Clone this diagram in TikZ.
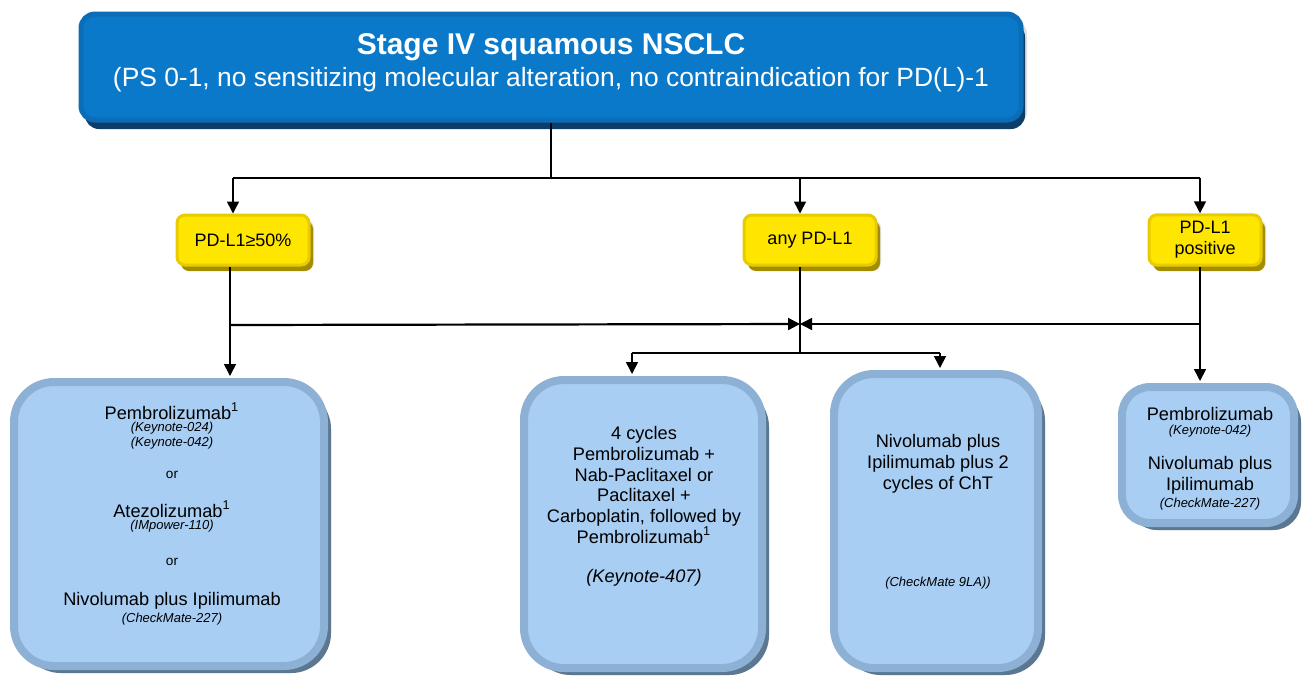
\documentclass[tikz,border=0pt]{standalone}
\usepackage{fontspec}
\setmainfont{Liberation Sans}
\usetikzlibrary{arrows.meta,shadows}

\definecolor{topface}{HTML}{0A79C9}
\definecolor{topedge}{HTML}{0B6DB8}
\definecolor{topdark}{HTML}{0C3E6A}
\definecolor{ylwface}{HTML}{FFE600}
\definecolor{ylwedge}{HTML}{E8CB00}
\definecolor{ylwdark}{HTML}{A48C00}
\definecolor{armface}{HTML}{A8CEF3}
\definecolor{armedge}{HTML}{8CB1D4}
\definecolor{armdark}{HTML}{5B7791}

\begin{document}
\begin{tikzpicture}[
  x=0.5pt, y=-0.5pt,
  topbox/.style={rectangle, rounded corners=7pt, fill=topface, draw=topedge, line width=2.5pt,
    drop shadow={opacity=0.25, shadow xshift=3pt, shadow yshift=-3pt},
    general shadow={fill=topdark, shadow xshift=2pt, shadow yshift=-4.5pt}},
  ylwbox/.style={rectangle, rounded corners=4pt, fill=ylwface, draw=ylwedge, line width=1.5pt,
    minimum height=25pt, align=center, font=\fontsize{9}{10.5}\selectfont,
    drop shadow={opacity=0.25, shadow xshift=2.5pt, shadow yshift=-2.5pt},
    general shadow={fill=ylwdark, shadow xshift=2pt, shadow yshift=-3pt}},
  armbox/.style={rectangle, rounded corners=20pt, fill=armface, draw=armedge, line width=4pt,
    drop shadow={opacity=0.25, shadow xshift=3.5pt, shadow yshift=-3.5pt},
    general shadow={fill=armdark, shadow xshift=3.5pt, shadow yshift=-3.5pt}},
  drug/.style={inner sep=0pt, align=center, font=\fontsize{9.1}{10.4}\selectfont},
  trial/.style={inner sep=0pt, align=center, font=\fontsize{6.5}{7.6}\selectfont\itshape},
  alt/.style={inner sep=0pt, font=\fontsize{6.8}{8}\selectfont},
  conn/.style={line width=0.8pt, draw=black},
  arr/.style={conn, -{Triangle[length=6pt, width=6pt]}}
]
\useasboundingbox (0,0) rectangle (1304,676);

% --- header ---
\node[topbox, minimum width=470pt, minimum height=53pt] (top) at (551,67) {};
\node[inner sep=0pt, text=white, font=\fontsize{15}{18}\selectfont\bfseries] (ttl) at (551,47) {Stage IV squamous NSCLC};
\node[inner sep=0pt, text=white, font=\fontsize{13.2}{16}\selectfont] (sub) at (551,80) {(PS 0-1, no sensitizing molecular alteration, no contraindication for PD(L)-1};

% --- PD-L1 groups ---
\node[ylwbox, minimum width=66pt] (yb1) at (243,240) {PD-L1≥50\%};
\node[ylwbox, minimum width=66pt] (yb2) at (810,240) {any PD-L1};
\node[ylwbox, minimum width=56pt] (yb3) at (1205,240) {PD-L1\\positive};

% --- treatment boxes ---
\node[armbox, minimum width=155pt, minimum height=142pt] (bA) at (169,524) {};
\node[armbox, minimum width=119pt, minimum height=144pt] (bB) at (643,524) {};
\node[armbox, minimum width=102pt, minimum height=147pt] (bC) at (936,521) {};
\node[armbox, rounded corners=14pt, minimum width=86pt, minimum height=68pt] (bD) at (1208,455) {};

% box A
\node[drug]  (aP)  at (172,411) {Pembrolizumab\textsuperscript{1}};
\node[trial] (aK)  at (172,436) {(Keynote-024)\\(Keynote-042)};
\node[alt]   (aO1) at (172,475) {or};
\node[drug]  (aA)  at (172,509) {Atezolizumab\textsuperscript{1}};
\node[trial] (aI)  at (172,526) {(IMpower-110)};
\node[alt]   (aO2) at (172,562) {or};
\node[drug]  (aN)  at (172,601) {Nivolumab plus Ipilimumab};
\node[trial] (aC)  at (172,619) {(CheckMate-227)};

% box B
\node[drug] (bT) at (644,485) {4 cycles\\Pembrolizumab +\\Nab-Paclitaxel or\\Paclitaxel +\\Carboplatin, followed by\\Pembrolizumab\textsuperscript{1}};
\node[drug, font=\fontsize{9.1}{10.4}\selectfont\itshape] (bK) at (644,578) {(Keynote-407)};

% box C
\node[drug]  (cT) at (938,464) {Nivolumab plus\\Ipilimumab plus 2\\cycles of ChT};
\node[trial] (cC) at (938,583) {(CheckMate 9LA))};

% box D
\node[drug]  (dP) at (1210,414) {Pembrolizumab};
\node[trial] (dK) at (1210,431) {(Keynote-042)};
\node[drug]  (dN) at (1210,475) {Nivolumab plus\\Ipilimumab};
\node[trial] (dC) at (1210,504) {(CheckMate-227)};

% --- connectors ---
\coordinate (bar) at (551,178);
\coordinate (bl) at (233,178);
\coordinate (bm) at (800,178);
\coordinate (br) at (1200,178);
\coordinate (cL) at (230,325);
\coordinate (cM) at (800,324);
\coordinate (cR) at (1200,324);
\coordinate (cD) at (800,353);
\coordinate (dB) at (632,353);
\coordinate (dE) at (940,353);

\draw[conn] (top.south) -- (bar);
\draw[conn] (bl) -- (br);
\draw[arr] (bl) -- (bl |- yb1.north);
\draw[arr] (bm) -- (bm |- yb2.north);
\draw[arr] (br) -- (br |- yb3.north);

\draw[arr, shorten >=1pt] (cL |- yb1.south) -- (cL |- bA.north);
\draw[arr, line width=1.1pt] (cL) -- (cM);
\draw[arr, shorten >=1pt] (cR |- yb3.south) -- (cR |- bD.north);
\draw[arr] (cR) -- (cM);
\draw[conn] (cM |- yb2.south) -- (cD);
\draw[conn] (dB) -- (dE);
\draw[arr, shorten >=1pt] (dB) -- (dB |- bB.north);
\draw[arr, shorten >=1pt] (dE) -- (dE |- bC.north);

\end{tikzpicture}
\end{document}
